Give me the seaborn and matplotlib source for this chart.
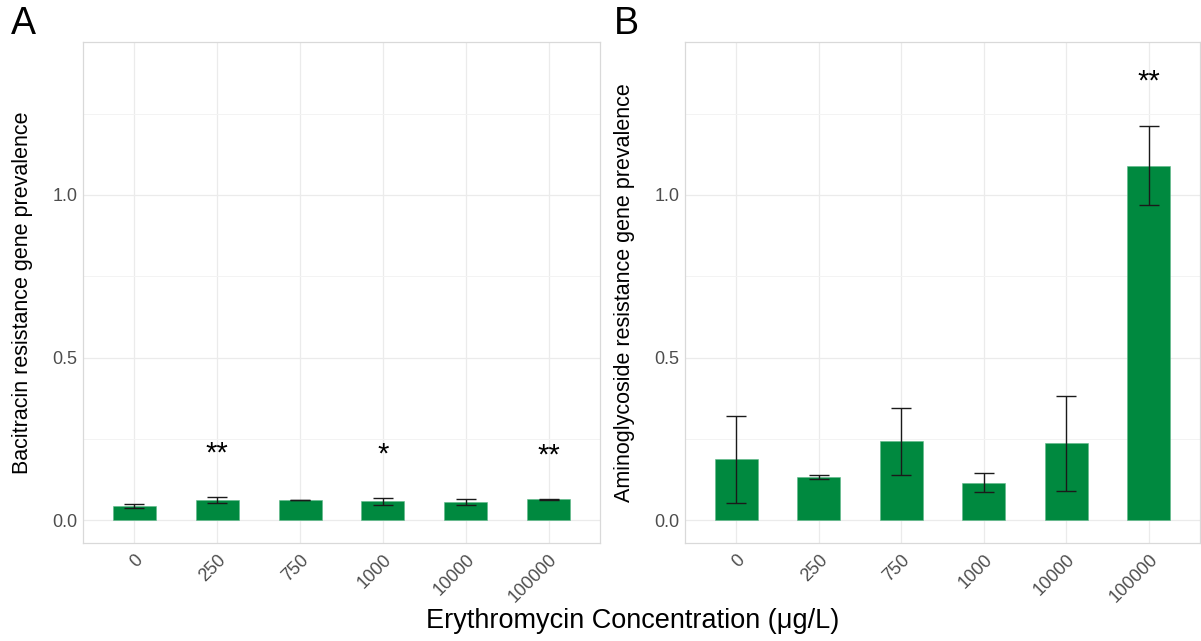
import numpy as np
import pandas as pd
import matplotlib
matplotlib.use("Agg")
import matplotlib.pyplot as plt
import seaborn as sns

# Erythromycin concentration groups (µg/L)
concentrations = ["0", "250", "750", "1000", "10000", "100000"]

# Bacitracin resistance gene prevalence: mean and standard error
bac_mean = [0.045, 0.061, 0.062, 0.058, 0.056, 0.064]
bac_se = [0.006, 0.009, 0.001, 0.010, 0.008, 0.001]
bac_sig = ["", "**", "", "*", "", "**"]

# Aminoglycoside resistance gene prevalence: mean and standard error
ami_mean = [0.187, 0.133, 0.242, 0.115, 0.237, 1.090]
ami_se = [0.133, 0.007, 0.103, 0.029, 0.146, 0.122]
ami_sig = ["", "", "", "", "", "**"]

y_ticks = [0.0, 0.5, 1.0]

sns.set_theme(style="whitegrid")
plt.rcParams["font.family"] = ["Liberation Sans", "DejaVu Sans"]

BAR_COLOR = "#00893F"
GRID = "#EBEBEB"
BORDER = "#D9D9D9"

fig = plt.figure(figsize=(12.01, 6.41), dpi=100)
ax_a = fig.add_axes([0.0691, 0.1529, 0.4305, 0.7816])
ax_b = fig.add_axes([0.5704, 0.1529, 0.4288, 0.7816])


def draw_panel(ax, means, ses, sigs, ylabel):
    df = pd.DataFrame({"conc": concentrations, "value": means})
    sns.barplot(data=df, x="conc", y="value", order=concentrations,
                color=BAR_COLOR, saturation=1, width=0.52, errorbar=None,
                edgecolor="#5FB98A", linewidth=0.4, ax=ax, zorder=2)
    xs = np.arange(len(concentrations))
    ax.errorbar(xs, means, yerr=ses, fmt="none", ecolor="#1a1a1a",
                elinewidth=1.0, capsize=7.5, capthick=1.0, zorder=3)
    tops = np.asarray(means) + np.asarray(ses)
    for x, top, s in zip(xs, tops, sigs):
        if s:
            ax.text(x, top + 0.135, s, ha="center", va="center",
                    fontsize=21, color="black", zorder=4)
    ax.set_ylim(-0.07, 1.47)
    ax.set_xlim(-0.62, len(concentrations) - 0.38)
    ax.set_yticks(y_ticks)
    ax.set_yticklabels([f"{v:.1f}" for v in y_ticks])
    ax.set_yticks([0.25, 0.75, 1.25], minor=True)
    ax.grid(True, which="major", color=GRID, linewidth=0.9, zorder=0)
    ax.grid(True, which="minor", axis="y", color="#F3F3F3", linewidth=0.7, zorder=0)
    ax.set_axisbelow(True)
    ax.tick_params(axis="both", which="both", length=0, labelsize=13,
                   labelcolor="#4D4D4D", pad=4)
    ax.tick_params(axis="x", pad=6)
    for lab in ax.get_xticklabels():
        lab.set_rotation(45)
        lab.set_ha("right")
        lab.set_va("top")
        lab.set_rotation_mode("anchor")
    for sp in ax.spines.values():
        sp.set_visible(True)
        sp.set_color(BORDER)
        sp.set_linewidth(0.9)
    ax.set_xlabel("")
    ax.set_ylabel(ylabel, fontsize=15.5, color="black", labelpad=14)


draw_panel(ax_a, bac_mean, bac_se, bac_sig, "Bacitracin resistance gene prevalence")
draw_panel(ax_b, ami_mean, ami_se, ami_sig, "Aminoglycoside resistance gene prevalence")

fig.text(0.0095, 0.962, "A", fontsize=27, ha="left", va="center", color="black")
fig.text(0.511, 0.962, "B", fontsize=27, ha="left", va="center", color="black")
fig.text(0.527, 0.031, "Erythromycin Concentration (\u03bcg/L)", fontsize=19.5,
         ha="center", va="center", color="black")

fig.savefig("out.png", dpi=100)
